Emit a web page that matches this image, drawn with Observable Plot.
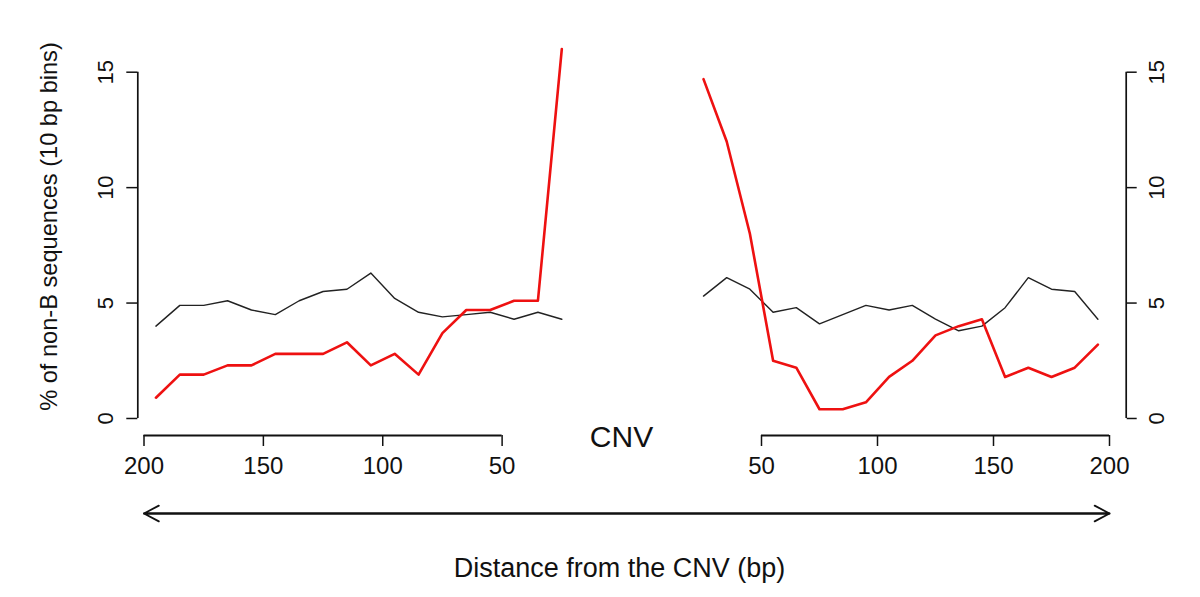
<!DOCTYPE html>
<html>
<head>
<meta charset="utf-8">
<script src="https://cdn.jsdelivr.net/npm/d3@7"></script>
<script src="https://cdn.jsdelivr.net/npm/@observablehq/plot@0.6"></script>
<style>
  html, body { margin: 0; padding: 0; background: white; }
  #chart { position: relative; width: 1200px; height: 597px; }
  #chart svg { position: absolute; left: 0; top: 0; }
</style>
</head>
<body>
<div id="chart"></div>
<script>
// ---- Data ----
// Left of the CNV: distance (bp) of 10-bp bin midpoints, from far to near
const leftDist  = [195, 185, 175, 165, 155, 145, 135, 125, 115, 105, 95, 85, 75, 65, 55, 45, 35, 25];
const leftBlack = [4.0, 4.9, 4.9, 5.1, 4.7, 4.5, 5.1, 5.5, 5.6, 6.3, 5.2, 4.6, 4.4, 4.5, 4.6, 4.3, 4.6, 4.3];
const leftRed   = [0.9, 1.9, 1.9, 2.3, 2.3, 2.8, 2.8, 2.8, 3.3, 2.3, 2.8, 1.9, 3.7, 4.7, 4.7, 5.1, 5.1, 16.0];

// Right of the CNV: distance (bp), from near to far
const rightDist  = [25, 35, 45, 55, 65, 75, 85, 95, 105, 115, 125, 135, 145, 155, 165, 175, 185, 195];
const rightBlack = [5.3, 6.1, 5.6, 4.6, 4.8, 4.1, 4.5, 4.9, 4.7, 4.9, 4.3, 3.8, 4.0, 4.8, 6.1, 5.6, 5.5, 4.3];
const rightRed   = [14.7, 12.0, 8.0, 2.5, 2.2, 0.4, 0.4, 0.7, 1.8, 2.5, 3.6, 4.0, 4.3, 1.8, 2.2, 1.8, 2.2, 3.2];

// Tick labels
const leftTicks  = [200, 150, 100, 50];
const rightTicks = [50, 100, 150, 200];
const yTicks     = [0, 5, 10, 15];

const centerLabel = "CNV";
const xTitle = "Distance from the CNV (bp)";
const yTitle = "% of non-B sequences (10 bp bins)";

// ---- Scale configuration ----
const W = 1200, H = 597;
const LEFT_X  = {domain: [202.6, 25], range: [137.3, 561.3]};   // mirrored: distance grows to the left
const RIGHT_X = {domain: [25, 207.2], range: [703, 1125.7]};
const ARROW_X = {domain: [-200, 200], range: [143.5, 1109]};    // signed distance across the CNV
const Y_SCALE = {domain: [-0.737, 15], range: [435, 71.7]};

const ink = "#111";
const font = "'Liberation Sans', Arial, Helvetica, sans-serif";
const base = {
  width: W, height: H,
  marginLeft: 137.3, marginRight: W - 1125.7, marginTop: 17, marginBottom: H - 435
};
const atAxis = () => Y_SCALE.domain[0];
const yLo = d3.min(yTicks), yHi = d3.max(yTicks);

const left = Plot.plot({
  ...base,
  style: {fontFamily: font, background: "white", color: ink},
  x: LEFT_X,
  y: Y_SCALE,
  marks: [
    Plot.ruleX([LEFT_X.domain[0]], {y1: yLo, y2: yHi, stroke: ink, strokeWidth: 1.7}),
    Plot.ruleY([Y_SCALE.domain[0]], {x1: d3.max(leftTicks), x2: d3.min(leftTicks), stroke: ink, strokeWidth: 2}),
    Plot.axisX({ticks: leftTicks, tickSize: 11, tickPadding: 10.7, fontSize: 24, strokeWidth: 1.5, label: null}),
    Plot.axisY({
      anchor: "left", ticks: yTicks, tickSize: 11, tickPadding: 14.3,
      tickRotate: -90, textAnchor: "middle", lineAnchor: "bottom",
      fontSize: 22, strokeWidth: 1.5, label: null
    }),
    Plot.line(leftDist, {x: d => d, y: (d, i) => leftBlack[i], stroke: "#222", strokeWidth: 1.4}),
    Plot.line(leftDist, {x: d => d, y: (d, i) => leftRed[i], stroke: "#ee1111", strokeWidth: 2.6}),
    Plot.text([centerLabel], {x: () => 0, y: atAxis, text: d => d, dy: 11.7, lineAnchor: "bottom", fontSize: 30, fill: ink}),
    Plot.text([xTitle], {frameAnchor: "bottom", text: d => d, dx: -12.5, dy: 141.7, lineAnchor: "bottom", fontSize: 27, fill: ink}),
    Plot.text([yTitle], {frameAnchor: "left", text: d => d, rotate: -90, dx: -81.3, lineAnchor: "bottom", textAnchor: "middle", fontSize: 23.6, fill: ink})
  ]
});

const right = Plot.plot({
  ...base,
  style: {fontFamily: font, background: "transparent", color: ink},
  x: RIGHT_X,
  y: Y_SCALE,
  marks: [
    Plot.ruleX([RIGHT_X.domain[1]], {y1: yLo, y2: yHi, stroke: ink, strokeWidth: 1.7}),
    Plot.ruleY([Y_SCALE.domain[0]], {x1: d3.min(rightTicks), x2: d3.max(rightTicks), stroke: ink, strokeWidth: 2}),
    Plot.axisX({ticks: rightTicks, tickSize: 11, tickPadding: 10.7, fontSize: 24, strokeWidth: 1.5, label: null}),
    Plot.axisY({
      anchor: "right", ticks: yTicks, tickSize: 10, tickPadding: 12.3,
      tickRotate: -90, textAnchor: "middle", lineAnchor: "top",
      fontSize: 22, strokeWidth: 1.5, label: null
    }),
    Plot.line(rightDist, {x: d => d, y: (d, i) => rightBlack[i], stroke: "#222", strokeWidth: 1.4}),
    Plot.line(rightDist, {x: d => d, y: (d, i) => rightRed[i], stroke: "#ee1111", strokeWidth: 2.6})
  ]
});

const arrow = Plot.plot({
  ...base,
  style: {fontFamily: font, background: "transparent", color: ink},
  x: {...ARROW_X, axis: null},
  y: {...Y_SCALE, axis: null},
  marks: [
    Plot.arrow([
      {x1: -d3.max(leftTicks), x2: d3.max(rightTicks)},
      {x1: d3.max(rightTicks), x2: -d3.max(leftTicks)}
    ], {x1: "x1", x2: "x2", y1: atAxis, y2: atAxis, dy: 78, stroke: ink, strokeWidth: 1.8, headLength: 14, headAngle: 56})
  ]
});

const host = document.getElementById("chart");
host.appendChild(left);
host.appendChild(right);
host.appendChild(arrow);
</script>
</body>
</html>
